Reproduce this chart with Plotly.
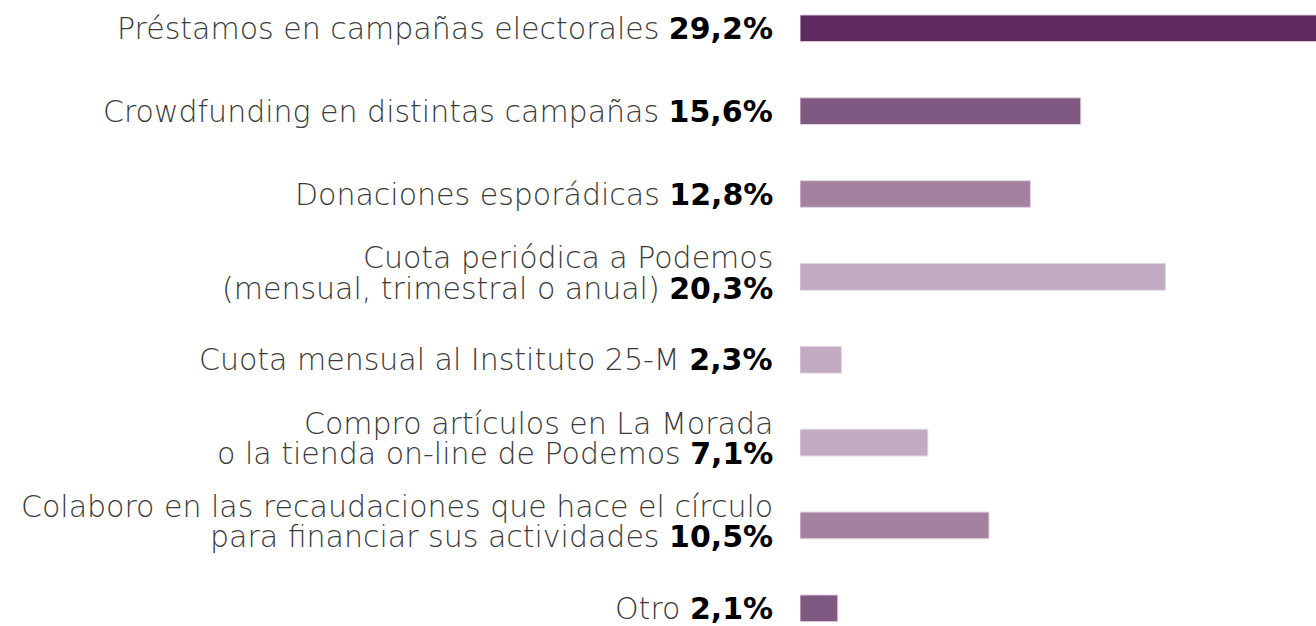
import plotly.graph_objects as go

labels = [
    "Préstamos en campañas electorales",
    "Crowdfunding en distintas campañas",
    "Donaciones esporádicas",
    "Cuota periódica a Podemos\n(mensual, trimestral o anual)",
    "Cuota mensual al Instituto 25-M",
    "Compro artículos en La Morada\no la tienda on-line de Podemos",
    "Colaboro en las recaudaciones que hace el círculo\npara financiar sus actividades",
    "Otro",
]
values = [29.2, 15.6, 12.8, 20.3, 2.3, 7.1, 10.5, 2.1]
value_text = ["29,2%", "15,6%", "12,8%", "20,3%", "2,3%", "7,1%", "10,5%", "2,1%"]
colors = ["#602a60", "#805982", "#a3819f", "#c2abc2", "#c2abc2", "#c2abc2", "#a3819f", "#805982"]

W, H = 1316, 626
ypos = list(range(len(values)))

fig = go.Figure()
fig.add_trace(go.Bar(
    x=values, y=ypos, orientation="h",
    marker=dict(color=colors, line=dict(color="#e2d4e2", width=1)),
    width=0.322, hoverinfo="skip",
))

font_light = dict(family="DejaVu Sans", size=30, color="#3a3a3a", weight=200)
for i, (lab, vt) in enumerate(zip(labels, value_text)):
    lines = lab.split("\n")
    bold = f"<span style='color:#000000;font-weight:bold'><b>{vt}</b></span>"
    if len(lines) == 1:
        items = [(f"{lines[0]} {bold}", 0)]
    else:
        items = [(lines[0], 19.3), (f"{lines[1]} {bold}", -11.2)]
    for txt, shift in items:
        fig.add_annotation(
            xref="paper", yref="y", x=775 / W, y=i, yshift=shift,
            xanchor="right", yanchor="middle", align="right",
            text=txt, showarrow=False, font=font_light,
        )

fig.update_layout(
    width=W, height=H,
    margin=dict(l=0, r=0, t=0, b=0),
    paper_bgcolor="white", plot_bgcolor="white",
    showlegend=False,
    xaxis=dict(domain=[800 / W, 1], range=[0, 516 / 18.0], visible=False, fixedrange=True),
    yaxis=dict(range=[7.2136, -0.3415], visible=False, fixedrange=True),
)

fig.write_html("out.html", config={"displayModeBar": False},
               post_script="document.body.style.margin='0';")
